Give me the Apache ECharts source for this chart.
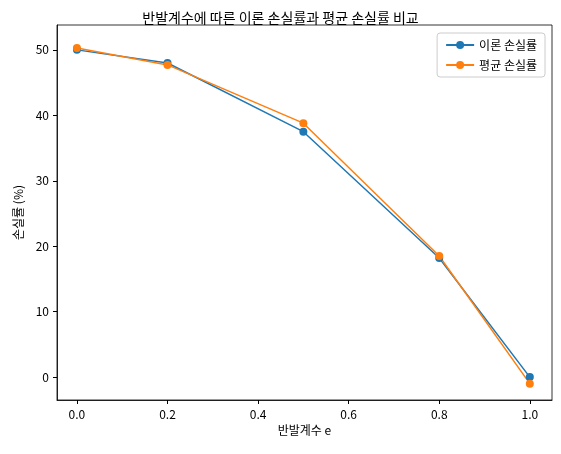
<!DOCTYPE html>
<html><head><meta charset="utf-8">
<script src="https://cdn.jsdelivr.net/npm/echarts@6/dist/echarts.min.js"></script>
<style>html,body{margin:0;padding:0;background:#fff}#c{width:561px;height:454px}</style>
</head><body><div id="c"></div>
<script>
const eValues = [0.0, 0.2, 0.5, 0.8, 1.0];
const theoryLoss = [50.0, 48.0, 37.5, 18.2, 0.0];
const avgLoss = [50.3, 47.7, 38.8, 18.5, -1.0];
const xTicks = [0, 0.2, 0.4, 0.6, 0.8, 1.0];
const yTicks = [0, 10, 20, 30, 40, 50];
const F = '"Noto Sans CJK KR", "DejaVu Sans", sans-serif';
const chart = echarts.init(document.getElementById('c'));
const axisCommon = {
  axisLine: {onZero: false, lineStyle: {color: '#000', width: 0.8}},
  splitLine: {show: false},
  nameLocation: 'middle',
  nameTextStyle: {color: '#000', fontSize: 12, fontFamily: F}
};
chart.setOption({
  animation: false,
  title: {text: '반발계수에 따른 이론 손실률과 평균 손실률 비교', left: 'center', top: 6,
    textStyle: {fontSize: 14, fontWeight: 'normal', color: '#000', fontFamily: F}},
  legend: {top: 33, right: 16, orient: 'vertical', itemWidth: 28, itemHeight: 10, itemGap: 8,
    borderColor: '#ccc', borderWidth: 1, borderRadius: 3, padding: [6, 8],
    textStyle: {fontSize: 12, color: '#000', fontFamily: F},
    data: ['이론 손실률', '평균 손실률']},
  grid: {left: 57, right: 9, top: 25, bottom: 54, show: true, borderColor: '#000', borderWidth: 0.8},
  xAxis: Object.assign({type: 'value', min: -0.044, max: 1.049, name: '반발계수 e', nameGap: 24,
    axisLabel: {customValues: xTicks, formatter: v => v.toFixed(1), color: '#000', fontSize: 12, fontFamily: F}},
    axisCommon, {axisTick: {customValues: xTicks, length: 4, lineStyle: {color: '#000'}}}),
  yAxis: Object.assign({type: 'value', min: -3.5, max: 53.8, name: '손실률 (%)', nameGap: 32,
    axisLabel: {customValues: yTicks, color: '#000', fontSize: 12, fontFamily: F}},
    axisCommon, {axisTick: {customValues: yTicks, length: 4, lineStyle: {color: '#000'}}}),
  series: [
    {name: '이론 손실률', type: 'line', data: eValues.map((x, i) => [x, theoryLoss[i]]),
      color: '#1f77b4', symbol: 'circle', symbolSize: 8, lineStyle: {width: 1.5}},
    {name: '평균 손실률', type: 'line', data: eValues.map((x, i) => [x, avgLoss[i]]),
      color: '#ff7f0e', symbol: 'circle', symbolSize: 8, lineStyle: {width: 1.5}}
  ]
});
</script></body></html>
